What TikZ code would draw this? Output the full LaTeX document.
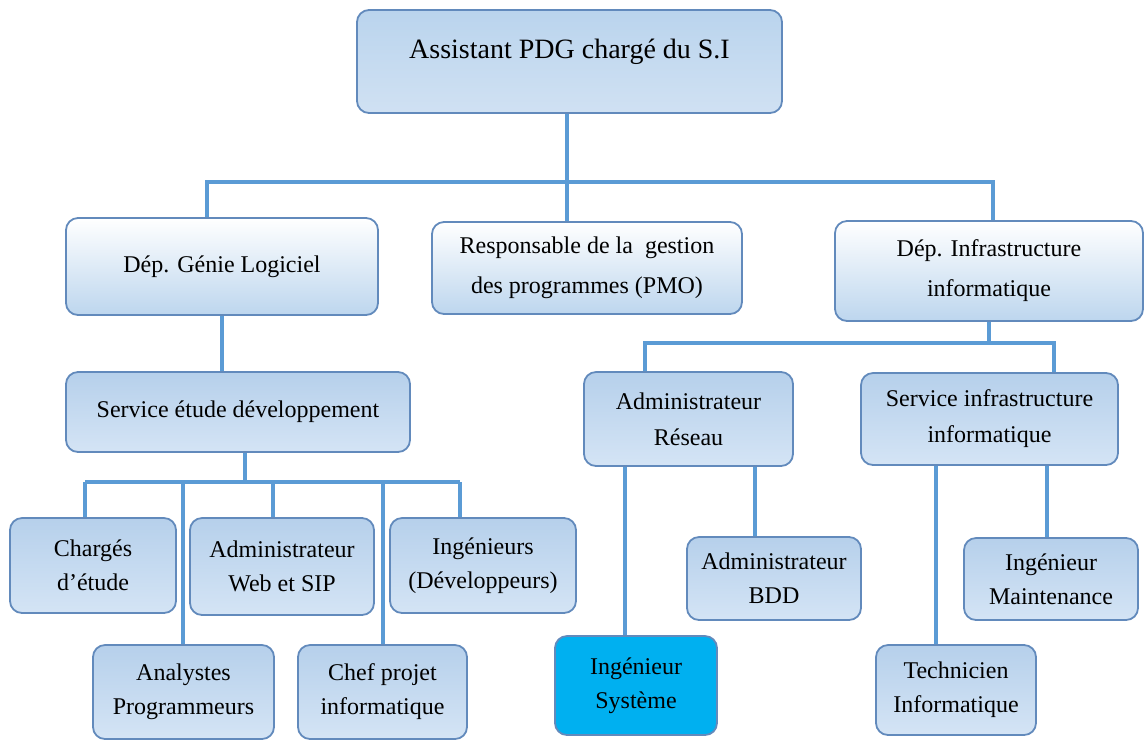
\documentclass[tikz,border=0pt]{standalone}
\usepackage{fontspec}
\setmainfont{Liberation Serif}
\usetikzlibrary{shadings}
\definecolor{linkblue}{RGB}{91,155,213}
\definecolor{boxline}{RGB}{98,138,188}
\definecolor{headtop}{RGB}{186,212,237}
\definecolor{headbot}{RGB}{208,225,243}
\definecolor{deptbot}{RGB}{189,214,238}
\definecolor{unittop}{RGB}{182,208,235}
\definecolor{unitbot}{RGB}{212,228,245}
\definecolor{sysblue}{RGB}{0,176,240}
\begin{document}
\begin{tikzpicture}[x=0.5pt,y=-0.5pt]
    \tikzstyle{every node}+=[inner sep=0pt]
    \tikzstyle{box}=[draw=boxline, line width=0.9pt, rounded corners=6pt, align=center, font=\fontsize{12}{17}\selectfont]
    \tikzstyle{headbox}=[box, top color=headtop, bottom color=headbot, font=\fontsize{14}{17}\selectfont]
    \tikzstyle{deptbox}=[box, top color=white, bottom color=deptbot, font=\fontsize{12}{20}\selectfont]
    \tikzstyle{unitbox}=[box, top color=unittop, bottom color=unitbot, font=\fontsize{12}{18}\selectfont]
    \tikzstyle{staffbox}=[box, top color=unittop, bottom color=unitbot]
    \tikzstyle{link}=[linkblue, line width=1.8pt]
    \useasboundingbox (0,0) rectangle (1144,741);
    % boxes
    \node [headbox, text depth=13pt, minimum width=212.5pt, minimum height=51.5pt] (top) at (569.5,61.5) {Assistant PDG chargé du S.I};
    \node [deptbox, minimum width=156pt, minimum height=48.5pt] (genie) at (222,266.5) {Dép. Génie Logiciel};
    \node [deptbox, minimum width=155pt, minimum height=46pt] (pmo) at (587,268) {Responsable de la~ gestion\\des programmes (PMO)};
    \node [deptbox, minimum width=154pt, minimum height=50pt] (infra) at (989,271) {Dép. Infrastructure\\informatique};
    \node [unitbox, minimum width=172pt, minimum height=40pt] (etude) at (238,412) {Service étude développement};
    \node [unitbox, minimum width=104.5pt, minimum height=47pt] (reseau) at (688.5,419) {Administrateur\\Réseau};
    \node [unitbox, minimum width=128.5pt, minimum height=46pt] (srvinfra) at (989.5,419) {Service infrastructure\\informatique};
    \node [staffbox, minimum width=83pt, minimum height=47.5pt] (charges) at (93,565.5) {Chargés\\d’étude};
    \node [staffbox, minimum width=92pt, minimum height=48.5pt] (admweb) at (282,566.5) {Administrateur\\Web et SIP};
    \node [staffbox, minimum width=93pt, minimum height=47.5pt] (inge) at (483,565.5) {Ingénieurs\\(Développeurs)};
    \node [staffbox, minimum width=90.5pt, minimum height=47pt] (analystes) at (183.5,692) {Analystes\\Programmeurs};
    \node [staffbox, minimum width=84.5pt, minimum height=47pt] (chef) at (382.5,692) {Chef projet\\informatique};
    \node [box, fill=sysblue, minimum width=81pt, minimum height=49.5pt] (system) at (636,685.5) {Ingénieur\\Système};
    \node [staffbox, minimum width=87pt, minimum height=41.5pt] (bdd) at (774,578.5) {Administrateur\\BDD};
    \node [staffbox, minimum width=80pt, minimum height=45pt] (techn) at (956,690) {Technicien\\Informatique};
    \node [staffbox, minimum width=87pt, minimum height=41pt] (maint) at (1051,579) {Ingénieur\\Maintenance};
    % bus points
    \coordinate (busL) at (207,182);
    \coordinate (busR) at (993,182);
    \coordinate (resL) at (645,343);
    \coordinate (resR) at (1054,343);
    \coordinate (devS) at (245,482);
    \coordinate (devA) at (85,482);
    \coordinate (devB) at (183,482);
    \coordinate (devC) at (273,482);
    \coordinate (devD) at (383,482);
    \coordinate (devE) at (460,482);
    \coordinate (sysX) at (625,0);
    \coordinate (bddX) at (755,0);
    \coordinate (techX) at (936,0);
    \coordinate (maintX) at (1047,0);
    % connectors
    \draw [link] (top.south -| 567,0) -- (pmo.north -| 567,0);
    \draw [link] (genie.north -| busL) -- (busL) -- (busR) -- (infra.north -| busR);
    \draw [link] (genie.south) -- (genie.south |- etude.north);
    \draw [link] (infra.south) -- (infra.south |- resL);
    \draw [link] (reseau.north -| resL) -- (resL) -- (resR) -- (srvinfra.north -| resR);
    \draw [link] (etude.south -| devS) -- (devS);
    \draw [link] (devA) -- (devE);
    \foreach \pt/\kid in {devA/charges, devB/analystes, devC/admweb, devD/chef, devE/inge}
        \draw [link] (\pt) -- (\pt |- \kid.north);
    \foreach \pt/\up/\kid in {sysX/reseau/system, bddX/reseau/bdd, techX/srvinfra/techn, maintX/srvinfra/maint}
        \draw [link] (\up.south -| \pt) -- (\kid.north -| \pt);
\end{tikzpicture}
\end{document}
